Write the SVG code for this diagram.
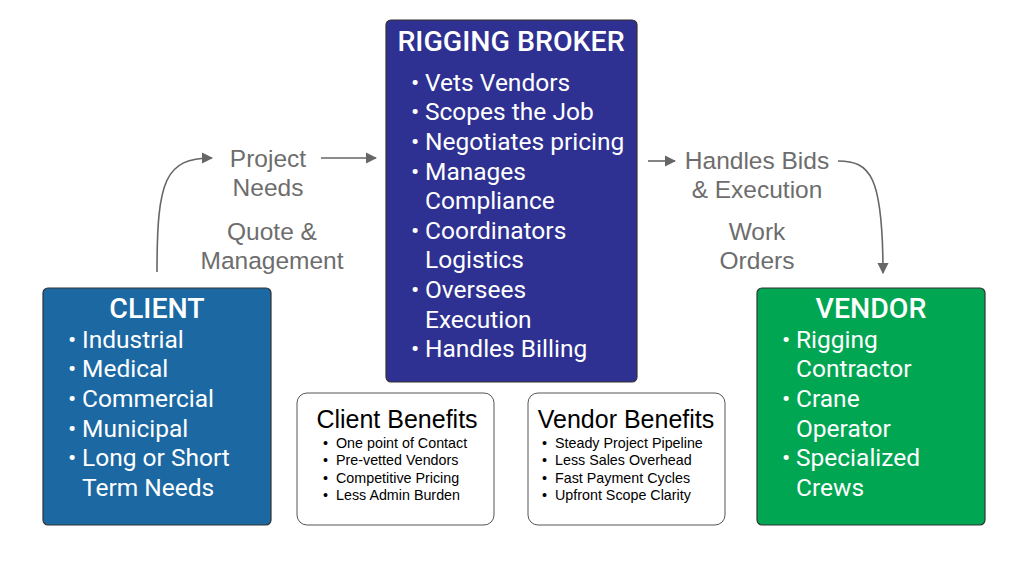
<svg xmlns="http://www.w3.org/2000/svg" width="1024" height="563" viewBox="0 0 1024 563">
<style>
.box{stroke:#333;stroke-width:1.2}
.t{font-family:Roboto,"Liberation Sans",sans-serif;fill:#fff}
.h{font-size:28.5px;font-weight:500}
.b{font-size:24.5px}
.g{font-family:"Liberation Sans",Arial,sans-serif;font-size:24.5px;fill:#6d6d6d;text-anchor:middle}
.bt{font-family:"Liberation Sans",Arial,sans-serif;fill:#000}
.c{fill:none;stroke:#666;stroke-width:1.6}
</style>
<defs><marker id="a" viewBox="0 0 10 10" refX="9" refY="5" markerWidth="7" markerHeight="7" orient="auto"><path d="M0,0L10,5L0,10z" fill="#666"/></marker></defs>
<rect width="1024" height="563" fill="#fff"/>
<g id="connectors">
<path class="c" d="M157,272 C157,180 165,158 212,158" marker-end="url(#a)"/>
<path class="c" d="M321,158 L376,158" marker-end="url(#a)"/>
<path class="c" d="M648,161 L675,161" marker-end="url(#a)"/>
<path class="c" d="M838,161 C870,161 883,175 883,273" marker-end="url(#a)"/>
<text class="g" x="268" y="167">Project</text><text class="g" x="268" y="196">Needs</text>
<text class="g" x="272" y="240">Quote &amp;</text><text class="g" x="272" y="269">Management</text>
<text class="g" x="757" y="169">Handles Bids</text><text class="g" x="757" y="198">&amp; Execution</text>
<text class="g" x="757" y="240">Work</text><text class="g" x="757" y="269">Orders</text>
</g>
<g id="client">
<rect class="box" x="43" y="288" width="228" height="237" rx="5" fill="#1b68a2"/>
<text class="t h" x="157" y="318" text-anchor="middle">CLIENT</text>
<text class="t b"><tspan x="68" y="348">•</tspan><tspan x="82">Industrial</tspan><tspan x="68" y="377">•</tspan><tspan x="82">Medical</tspan><tspan x="68" y="407">•</tspan><tspan x="82">Commercial</tspan><tspan x="68" y="437">•</tspan><tspan x="82">Municipal</tspan><tspan x="68" y="466">•</tspan><tspan x="82">Long or Short</tspan><tspan x="82" y="496">Term Needs</tspan></text>
</g>
<g id="broker">
<rect class="box" x="386" y="20" width="251" height="362" rx="5" fill="#2e3191"/>
<text class="t h" x="511" y="51" text-anchor="middle">RIGGING BROKER</text>
<text class="t b"><tspan x="411" y="91">•</tspan><tspan x="425">Vets Vendors</tspan><tspan x="411" y="120">•</tspan><tspan x="425">Scopes the Job</tspan><tspan x="411" y="150">•</tspan><tspan x="425">Negotiates pricing</tspan><tspan x="411" y="180">•</tspan><tspan x="425">Manages</tspan><tspan x="425" y="209">Compliance</tspan><tspan x="411" y="239">•</tspan><tspan x="425">Coordinators</tspan><tspan x="425" y="268">Logistics</tspan><tspan x="411" y="298">•</tspan><tspan x="425">Oversees</tspan><tspan x="425" y="328">Execution</tspan><tspan x="411" y="357">•</tspan><tspan x="425">Handles Billing</tspan></text>
</g>
<g id="vendor">
<rect class="box" x="757" y="288" width="228" height="237" rx="5" fill="#00a651"/>
<text class="t h" x="871" y="318" text-anchor="middle">VENDOR</text>
<text class="t b"><tspan x="782" y="348">•</tspan><tspan x="796">Rigging</tspan><tspan x="796" y="377">Contractor</tspan><tspan x="782" y="407">•</tspan><tspan x="796">Crane</tspan><tspan x="796" y="437">Operator</tspan><tspan x="782" y="466">•</tspan><tspan x="796">Specialized</tspan><tspan x="796" y="496">Crews</tspan></text>
</g>
<g id="client-benefits">
<rect x="297" y="393" width="197" height="132" rx="10" fill="#fff" stroke="#555" stroke-width="1"/>
<text class="bt" x="397" y="428" font-size="25" text-anchor="middle">Client Benefits</text>
<text class="bt" font-size="14.3"><tspan x="323" y="448">•</tspan><tspan x="336">One point of Contact</tspan><tspan x="323" y="465">•</tspan><tspan x="336">Pre-vetted Vendors</tspan><tspan x="323" y="483">•</tspan><tspan x="336">Competitive Pricing</tspan><tspan x="323" y="500">•</tspan><tspan x="336">Less Admin Burden</tspan></text>
</g>
<g id="vendor-benefits">
<rect x="528" y="393" width="197" height="132" rx="10" fill="#fff" stroke="#555" stroke-width="1"/>
<text class="bt" x="626" y="428" font-size="25" text-anchor="middle">Vendor Benefits</text>
<text class="bt" font-size="14.3"><tspan x="542" y="448">•</tspan><tspan x="555">Steady Project Pipeline</tspan><tspan x="542" y="465">•</tspan><tspan x="555">Less Sales Overhead</tspan><tspan x="542" y="483">•</tspan><tspan x="555">Fast Payment Cycles</tspan><tspan x="542" y="500">•</tspan><tspan x="555">Upfront Scope Clarity</tspan></text>
</g>
</svg>
